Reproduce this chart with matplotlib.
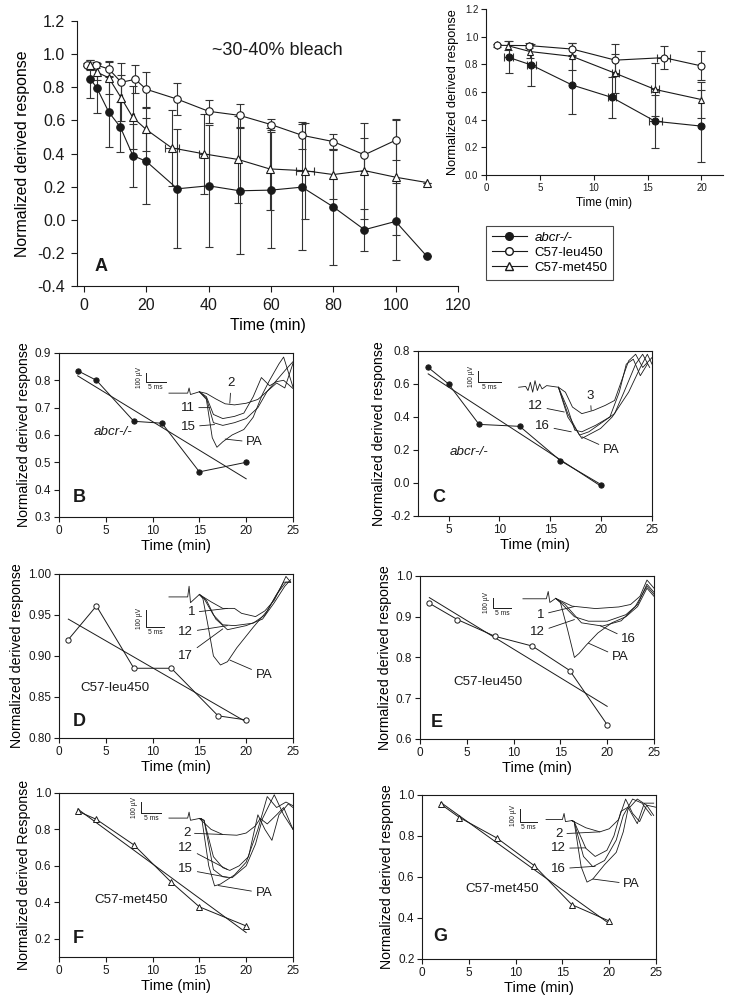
"""
Curso temporal da resposta derivada normalizada (painéis A-G).
"""
import matplotlib
matplotlib.use('Agg')
import matplotlib.pyplot as plt
import matplotlib.transforms as mtransforms
from matplotlib.lines import Line2D
import numpy as np

plt.rcParams['font.family'] = ['Liberation Sans', 'DejaVu Sans']

# ---------------- Painel A (médias +- erro) ----------------
tempo_abcr = [2.1, 4.2, 8, 11.7, 15.7, 20, 30, 40, 50, 60, 70, 80, 90, 100, 110]
resp_abcr = [0.85, 0.795, 0.65, 0.56, 0.388, 0.353, 0.187, 0.205, 0.175, 0.179,
             0.197, 0.078, -0.06, -0.01, -0.22]
erro_abcr = [0.115, 0.15, 0.21, 0.15, 0.19, 0.26, 0.36, 0.37, 0.38, 0.35,
             0.38, 0.35, 0.127, 0.23, 0.0]
xerro_abcr = [0.4, 0.4, 0, 0.4, 0.6, 0, 0, 0, 0, 0, 0, 0, 0, 0, 0]

tempo_leu = [1.0, 4.0, 8, 12, 16.5, 20, 30, 40, 50, 60, 70, 80, 90, 100]
resp_leu = [0.937, 0.935, 0.91, 0.83, 0.848, 0.788, 0.728, 0.655, 0.63, 0.575,
            0.51, 0.472, 0.392, 0.48]
erro_leu = [0.01, 0.02, 0.045, 0.115, 0.085, 0.105, 0.095, 0.07, 0.07, 0.035,
            0.08, 0.043, 0.1, 0.12]
xerro_leu = [0, 0, 0, 0, 0.6, 0, 0, 0, 0, 0, 0, 0, 0, 0]

tempo_met = [2.0, 4.1, 8, 12, 15.7, 20, 28.2, 38.5, 49.5, 59.6, 71, 80, 90, 100, 110]
resp_met = [0.935, 0.892, 0.857, 0.735, 0.618, 0.545, 0.434, 0.398, 0.364, 0.307,
            0.296, 0.273, 0.297, 0.257, 0.225]
erro_met = [0.03, 0.05, 0.1, 0.14, 0.19, 0.13, 0.23, 0.24, 0.26, 0.25,
            0.29, 0.15, 0.29, 0.35, 0.0]
xerro_met = [0, 0, 0, 0.3, 0.4, 0, 2.3, 1.5, 0, 0, 2.8, 0, 0, 0, 0]

N_INSET = 6  # primeiros 20 minutos

# ---------------- Painéis B-G (experimentos individuais) ----------------
tempo_B = [2, 4, 8, 11, 15, 20]
resp_B = [0.835, 0.80, 0.65, 0.643, 0.465, 0.50]
tempo_C = [3, 5, 8, 12, 16, 20]
resp_C = [0.70, 0.60, 0.355, 0.343, 0.135, -0.01]
tempo_D = [1, 4, 8, 12, 17, 20]
resp_D = [0.92, 0.961, 0.885, 0.885, 0.827, 0.822]
tempo_E = [1, 4, 8, 12, 16, 20]
resp_E = [0.933, 0.893, 0.852, 0.828, 0.768, 0.635]
tempo_F = [2, 4, 8, 12, 15, 20]
resp_F = [0.90, 0.855, 0.715, 0.51, 0.375, 0.27]
tempo_G = [2, 4, 8, 12, 16, 20]
resp_G = [0.955, 0.89, 0.79, 0.655, 0.465, 0.385]

# Traços de ERG (x em fração do eixo, y em unidades do eixo)
tracos_B = {
    '2': [(0.47, 0.753), (0.55, 0.753), (0.556, 0.772), (0.562, 0.748), (0.60, 0.758),
          (0.63, 0.752), (0.67, 0.732), (0.71, 0.714), (0.75, 0.71), (0.80, 0.716),
          (0.85, 0.73), (0.89, 0.76), (0.93, 0.80), (0.97, 0.84), (1.0, 0.868)],
    '11': [(0.60, 0.758), (0.63, 0.74), (0.66, 0.675), (0.70, 0.66), (0.75, 0.668),
           (0.79, 0.68), (0.83, 0.74), (0.865, 0.81), (0.90, 0.78), (0.93, 0.795),
           (0.96, 0.80), (1.0, 0.77)],
    '15': [(0.60, 0.758), (0.63, 0.735), (0.66, 0.645), (0.70, 0.635), (0.75, 0.645),
           (0.80, 0.66), (0.85, 0.70), (0.89, 0.76), (0.93, 0.79), (0.965, 0.772),
           (1.0, 0.862)],
    'PA': [(0.60, 0.758), (0.63, 0.73), (0.655, 0.59), (0.675, 0.555), (0.70, 0.575),
           (0.74, 0.60), (0.79, 0.62), (0.83, 0.665), (0.87, 0.75), (0.90, 0.80),
           (0.94, 0.86), (0.96, 0.885), (0.98, 0.83), (1.0, 0.775)],
}
tracos_C = {
    '3': [(0.43, 0.58), (0.46, 0.585), (0.47, 0.56), (0.48, 0.61), (0.49, 0.55),
          (0.50, 0.62), (0.51, 0.56), (0.52, 0.60), (0.53, 0.57), (0.55, 0.59),
          (0.60, 0.58), (0.63, 0.55), (0.66, 0.46), (0.70, 0.42), (0.75, 0.44),
          (0.80, 0.47), (0.84, 0.50), (0.87, 0.62), (0.90, 0.74), (0.93, 0.78),
          (0.96, 0.70), (1.0, 0.76)],
    '12': [(0.60, 0.58), (0.64, 0.45), (0.67, 0.32), (0.70, 0.31), (0.76, 0.35),
           (0.82, 0.40), (0.86, 0.55), (0.89, 0.72), (0.92, 0.75), (0.95, 0.65),
           (0.98, 0.72)],
    '16': [(0.60, 0.58), (0.64, 0.42), (0.69, 0.29), (0.73, 0.31), (0.78, 0.36),
           (0.84, 0.42), (0.88, 0.55), (0.93, 0.72), (0.96, 0.78), (0.99, 0.70)],
    'PA': [(0.60, 0.58), (0.64, 0.40), (0.70, 0.27), (0.74, 0.30), (0.78, 0.33),
           (0.83, 0.40), (0.90, 0.55), (0.95, 0.70), (0.98, 0.78), (1.0, 0.72)],
}
tracos_D = {
    '1': [(0.47, 0.972), (0.55, 0.972), (0.556, 0.985), (0.562, 0.965), (0.60, 0.975),
          (0.65, 0.966), (0.70, 0.958), (0.75, 0.958), (0.78, 0.952), (0.84, 0.948),
          (0.88, 0.955), (0.92, 0.968), (0.95, 0.985), (0.97, 0.997), (0.99, 0.99)],
    '12': [(0.60, 0.975), (0.62, 0.97), (0.66, 0.95), (0.70, 0.938), (0.75, 0.937),
           (0.83, 0.94), (0.88, 0.95), (0.92, 0.97), (0.96, 0.99), (0.99, 0.99)],
    '17': [(0.60, 0.975), (0.63, 0.968), (0.67, 0.945), (0.72, 0.932), (0.80, 0.937),
           (0.87, 0.945), (0.92, 0.965), (0.965, 0.985), (0.99, 0.993)],
    'PA': [(0.60, 0.975), (0.615, 0.97), (0.635, 0.94), (0.66, 0.90), (0.69, 0.889),
           (0.72, 0.893), (0.76, 0.91), (0.83, 0.935), (0.89, 0.955), (0.93, 0.975),
           (0.97, 0.99), (0.99, 0.99)],
}
tracos_E = {
    '1': [(0.44, 0.944), (0.54, 0.944), (0.548, 0.962), (0.555, 0.935), (0.58, 0.945),
          (0.65, 0.926), (0.75, 0.92), (0.85, 0.924), (0.90, 0.93), (0.94, 0.95),
          (0.97, 0.99), (1.0, 0.97)],
    '12': [(0.58, 0.945), (0.60, 0.935), (0.66, 0.90), (0.72, 0.889), (0.80, 0.889),
           (0.88, 0.905), (0.93, 0.93), (0.97, 0.98), (1.0, 0.96)],
    '16': [(0.58, 0.945), (0.62, 0.93), (0.69, 0.885), (0.78, 0.877), (0.86, 0.89),
           (0.92, 0.925), (0.97, 0.975), (1.0, 0.955)],
    'PA': [(0.58, 0.945), (0.60, 0.935), (0.63, 0.87), (0.66, 0.80), (0.68, 0.81),
           (0.71, 0.83), (0.76, 0.86), (0.82, 0.885), (0.88, 0.90), (0.93, 0.925),
           (0.97, 0.97), (1.0, 0.95)],
}
tracos_F = {
    '2': [(0.47, 0.862), (0.55, 0.862), (0.556, 0.895), (0.562, 0.85), (0.60, 0.86),
          (0.65, 0.80), (0.70, 0.772), (0.76, 0.768), (0.80, 0.78), (0.84, 0.82),
          (0.86, 0.86), (0.89, 0.83), (0.93, 0.88), (0.96, 0.92), (1.0, 0.80)],
    '12': [(0.60, 0.86), (0.62, 0.85), (0.66, 0.65), (0.70, 0.59), (0.73, 0.575),
           (0.77, 0.60), (0.81, 0.65), (0.85, 0.88), (0.88, 0.80), (0.91, 0.74),
           (0.94, 0.88), (0.98, 0.94), (1.0, 0.92)],
    '15': [(0.60, 0.86), (0.62, 0.85), (0.66, 0.58), (0.70, 0.54), (0.74, 0.535),
           (0.80, 0.60), (0.84, 0.72), (0.87, 0.86), (0.92, 0.99), (0.96, 0.88),
           (1.0, 0.80)],
    'PA': [(0.60, 0.86), (0.61, 0.86), (0.64, 0.60), (0.665, 0.49), (0.69, 0.50),
           (0.75, 0.55), (0.80, 0.62), (0.85, 0.80), (0.89, 0.98), (0.93, 0.92),
           (0.97, 0.95), (1.0, 0.93)],
}
tracos_G = {
    '2': [(0.53, 0.88), (0.60, 0.88), (0.607, 0.91), (0.613, 0.87), (0.64, 0.875),
          (0.70, 0.84), (0.76, 0.82), (0.80, 0.835), (0.84, 0.88), (0.87, 0.98),
          (0.90, 0.91), (0.93, 0.87), (0.96, 0.95), (0.99, 0.90)],
    '12': [(0.64, 0.875), (0.65, 0.87), (0.70, 0.74), (0.74, 0.70), (0.79, 0.73),
           (0.82, 0.80), (0.85, 0.92), (0.88, 0.94), (0.92, 0.86), (0.95, 0.96),
           (0.99, 0.96)],
    '16': [(0.64, 0.875), (0.65, 0.87), (0.69, 0.70), (0.73, 0.65), (0.78, 0.68),
           (0.83, 0.78), (0.86, 0.90), (0.90, 0.98), (0.94, 0.96), (0.98, 0.90)],
    'PA': [(0.64, 0.875), (0.65, 0.87), (0.68, 0.65), (0.705, 0.575), (0.73, 0.59),
           (0.78, 0.66), (0.83, 0.72), (0.86, 0.82), (0.88, 0.93), (0.92, 0.98),
           (0.96, 0.95), (1.0, 0.94)],
}

# rótulos dos traços: (texto, posição do texto, ponto no traço)
rotulos_B = [('2', (0.72, 0.79), (0.73, 0.716)), ('11', (0.52, 0.70), (0.645, 0.70)),
             ('15', (0.52, 0.63), (0.665, 0.638)), ('PA', (0.80, 0.573), (0.71, 0.585))]
rotulos_C = [('3', (0.72, 0.53), (0.74, 0.44)), ('12', (0.47, 0.465), (0.625, 0.43)),
             ('16', (0.50, 0.345), (0.655, 0.31)), ('PA', (0.79, 0.20), (0.70, 0.28))]
rotulos_D = [('1', (0.55, 0.953), (0.72, 0.958)), ('12', (0.51, 0.929), (0.72, 0.937)),
             ('17', (0.51, 0.90), (0.70, 0.933)), ('PA', (0.84, 0.877), (0.73, 0.895))]
rotulos_E = [('1', (0.50, 0.905), (0.66, 0.925)), ('12', (0.47, 0.862), (0.66, 0.893)),
             ('16', (0.86, 0.845), (0.77, 0.878)), ('PA', (0.82, 0.80), (0.72, 0.835))]
rotulos_F = [('2', (0.53, 0.78), (0.70, 0.772)), ('12', (0.51, 0.70), (0.72, 0.58)),
             ('15', (0.51, 0.58), (0.72, 0.537)), ('PA', (0.84, 0.45), (0.68, 0.492))]
rotulos_G = [('2', (0.57, 0.81), (0.76, 0.82)), ('12', (0.55, 0.74), (0.70, 0.742)),
             ('16', (0.55, 0.64), (0.74, 0.652)), ('PA', (0.86, 0.565), (0.73, 0.59))]

# barra de escala (x da barra vertical, y inferior, y superior, x final horizontal)
barra_B = (0.37, 0.795, 0.828, 0.457)
barra_C = (0.255, 0.61, 0.68, 0.355)
barra_D = (0.37, 0.935, 0.956, 0.45)
barra_E = (0.31, 0.922, 0.946, 0.39)
barra_F = (0.35, 0.89, 0.95, 0.435)
barra_G = (0.42, 0.87, 0.93, 0.49)

COR = '#1a1a1a'


def estilo_eixo(ax, tam_ticks):
    ax.tick_params(direction='out', length=3.5, width=0.8, labelsize=tam_ticks,
                   colors=COR, top=False, right=False, pad=2)
    for s in ax.spines.values():
        s.set_linewidth(0.8)
        s.set_color(COR)


def serie(ax, x, y, ye, xe, marc, cheio, ms):
    ax.errorbar(x, y, yerr=ye, xerr=xe, fmt='-', color=COR, lw=0.8,
                ecolor='#333333', elinewidth=0.8, capsize=3, capthick=0.8,
                marker=marc, ms=ms, mfc=COR if cheio else 'white', mec=COR,
                mew=0.8, zorder=3)


def painel(fig, pos, tempo, resp, marc, cheio, xlim, xticks, ylim, yticks, fmt,
           ylabel, genotipo, pos_gen, italico, letra, pos_letra,
           tracos, rotulos, barra):
    ax = fig.add_axes(pos)
    estilo_eixo(ax, 8.5)
    ax.set_xlim(*xlim)
    ax.set_ylim(*ylim)
    ax.set_xticks(xticks)
    ax.set_yticks(yticks)
    ax.set_yticklabels([fmt % v for v in yticks])
    ax.set_xlabel('Time (min)', fontsize=10.5, labelpad=2)
    ax.set_ylabel(ylabel, fontsize=10.2, labelpad=3)

    # reta de regressão
    coef = np.polyfit(tempo, resp, 1)
    xr = np.array([tempo[0], tempo[-1]])
    ax.plot(xr, np.polyval(coef, xr), color=COR, lw=0.7)
    ax.plot(tempo, resp, '-', color=COR, lw=0.7, marker=marc, ms=3.8,
            mfc=COR if cheio else 'white', mec=COR, mew=0.7, zorder=3)

    trans = mtransforms.blended_transform_factory(ax.transAxes, ax.transData)
    for nome, pts in tracos.items():
        px, py = zip(*pts)
        ax.plot(px, py, color=COR, lw=0.6, transform=trans, clip_on=False)
    for texto, pt, alvo in rotulos:
        ax.annotate(texto, xy=alvo, xycoords=trans, xytext=pt, textcoords=trans,
                    fontsize=9.5, va='center', ha='left', color=COR,
                    arrowprops=dict(arrowstyle='-', lw=0.6, color=COR,
                                    shrinkA=1, shrinkB=0))
    # barra de escala
    xb, y0, y1, xh = barra
    ax.plot([xb, xb, xh], [y1, y0, y0], color=COR, lw=0.7, transform=trans)
    ax.text((xb + xh) / 2, y0 - (ylim[1] - ylim[0]) * 0.012, '5 ms', transform=trans,
            fontsize=4.8, ha='center', va='top', color=COR)
    ax.text(xb - 0.012, (y0 + y1) / 2, '100 \u00b5V', transform=trans, fontsize=4.8,
            rotation=90, ha='right', va='center', color=COR)

    ax.text(pos_gen[0], pos_gen[1], genotipo, fontsize=9.6,
            style='italic' if italico else 'normal', va='center', color=COR)
    ax.text(pos_letra[0], pos_letra[1], letra, fontsize=13, fontweight='bold',
            va='center', ha='left', color=COR)
    return ax


fig = plt.figure(figsize=(7.29, 10.05), dpi=100)

# ---------------- Painel A ----------------
axA = fig.add_axes([0.1056, 0.7154, 0.5226, 0.2637])
estilo_eixo(axA, 11.5)
axA.spines['top'].set_visible(False)
axA.spines['right'].set_visible(False)
serie(axA, tempo_abcr, resp_abcr, erro_abcr, None, 'o', True, 5.4)
serie(axA, tempo_leu, resp_leu, erro_leu, None, 'o', False, 5.4)
serie(axA, tempo_met, resp_met, erro_met, xerro_met, '^', False, 5.4)
axA.set_xlim(-2.2, 120)
axA.set_ylim(-0.4, 1.2)
axA.set_xticks(np.arange(0, 121, 20))
axA.set_yticks(np.arange(-0.4, 1.21, 0.2))
axA.set_yticklabels(['%.1f' % v for v in np.arange(-0.4, 1.21, 0.2)])
axA.tick_params(length=4.5, pad=4)
axA.set_xlabel('Time (min)', fontsize=11.5, labelpad=4)
axA.set_ylabel('Normalized derived response', fontsize=11.4, labelpad=5)
axA.text(62, 1.02, '~30-40% bleach', fontsize=13, ha='center', va='center', color=COR)
axA.text(3.5, -0.28, 'A', fontsize=13, fontweight='bold', va='center', color=COR)

# inset: primeiros 20 min
axI = fig.add_axes([0.6667, 0.8259, 0.3251, 0.1652])
estilo_eixo(axI, 7)
axI.spines['top'].set_visible(False)
axI.spines['right'].set_visible(False)
serie(axI, tempo_abcr[:N_INSET], resp_abcr[:N_INSET], erro_abcr[:N_INSET],
      xerro_abcr[:N_INSET], 'o', True, 5)
serie(axI, tempo_leu[:N_INSET], resp_leu[:N_INSET], erro_leu[:N_INSET],
      xerro_leu[:N_INSET], 'o', False, 5)
serie(axI, tempo_met[:N_INSET], resp_met[:N_INSET], erro_met[:N_INSET],
      xerro_met[:N_INSET], '^', False, 5)
axI.set_xlim(0, 22)
axI.set_ylim(0, 1.2)
axI.set_xticks([0, 5, 10, 15, 20])
axI.set_yticks(np.arange(0, 1.21, 0.2))
axI.set_yticklabels(['%.1f' % v for v in np.arange(0, 1.21, 0.2)])
axI.set_xlabel('Time (min)', fontsize=8.5, labelpad=3)
axI.set_ylabel('Normalized derived response', fontsize=9.2, labelpad=4)

alcas = [Line2D([], [], color=COR, lw=0.8, marker='o', ms=5.5, mfc=COR, mec=COR),
         Line2D([], [], color=COR, lw=0.8, marker='o', ms=5.5, mfc='white', mec=COR),
         Line2D([], [], color=COR, lw=0.8, marker='^', ms=5.5, mfc='white', mec=COR)]
leg = fig.legend(alcas, ['abcr-/-', 'C57-leu450', 'C57-met450'], loc='upper left',
                 bbox_to_anchor=(0.658, 0.782), fontsize=9.5, frameon=True,
                 fancybox=False, edgecolor=COR, handlelength=2.6, borderpad=0.45,
                 labelspacing=0.2, handletextpad=0.6)
leg.get_frame().set_linewidth(0.8)
leg.get_texts()[0].set_style('italic')

# ---------------- Painéis B-G ----------------
ylab = 'Normalized derived response'
painel(fig, [0.0809, 0.4856, 0.321, 0.1632], tempo_B, resp_B, 'o', True,
       (0, 25), [0, 5, 10, 15, 20, 25], (0.3, 0.9), np.arange(0.3, 0.91, 0.1), '%.1f',
       ylab, 'abcr-/-', (3.7, 0.61), True, 'B', (1.5, 0.37),
       tracos_B, rotulos_B, barra_B)
painel(fig, [0.5734, 0.4866, 0.321, 0.1642], tempo_C, resp_C, 'o', True,
       (2, 25), [5, 10, 15, 20, 25], (-0.2, 0.8), np.arange(-0.2, 0.81, 0.2), '%.1f',
       ylab, 'abcr-/-', (5.1, 0.19), True, 'C', (3.4, -0.09),
       tracos_C, rotulos_C, barra_C)
painel(fig, [0.0809, 0.2657, 0.321, 0.1632], tempo_D, resp_D, 'o', False,
       (0, 25), [0, 5, 10, 15, 20, 25], (0.8, 1.0), np.arange(0.80, 1.001, 0.05), '%.2f',
       ylab, 'C57-leu450', (2.3, 0.861), False, 'D', (1.5, 0.82),
       tracos_D, rotulos_D, barra_D)
painel(fig, [0.5761, 0.2647, 0.321, 0.1622], tempo_E, resp_E, 'o', False,
       (0, 25), [0, 5, 10, 15, 20, 25], (0.6, 1.0), np.arange(0.6, 1.01, 0.1), '%.1f',
       ylab, 'C57-leu450', (3.6, 0.74), False, 'E', (1.2, 0.64),
       tracos_E, rotulos_E, barra_E)
painel(fig, [0.0809, 0.0478, 0.321, 0.1632], tempo_F, resp_F, '^', False,
       (0, 25), [0, 5, 10, 15, 20, 25], (0.1, 1.0), np.arange(0.2, 1.01, 0.2), '%.1f',
       'Normalized derived Response', 'C57-met450', (3.8, 0.415), False, 'F', (1.5, 0.2),
       tracos_F, rotulos_F, barra_F)
painel(fig, [0.5789, 0.0458, 0.321, 0.1632], tempo_G, resp_G, '^', False,
       (0, 25), [0, 5, 10, 15, 20, 25], (0.2, 1.0), np.arange(0.2, 1.01, 0.2), '%.1f',
       ylab, 'C57-met450', (4.6, 0.54), False, 'G', (1.2, 0.31),
       tracos_G, rotulos_G, barra_G)

fig.savefig('out.png', dpi=100)
plt.close(fig)
